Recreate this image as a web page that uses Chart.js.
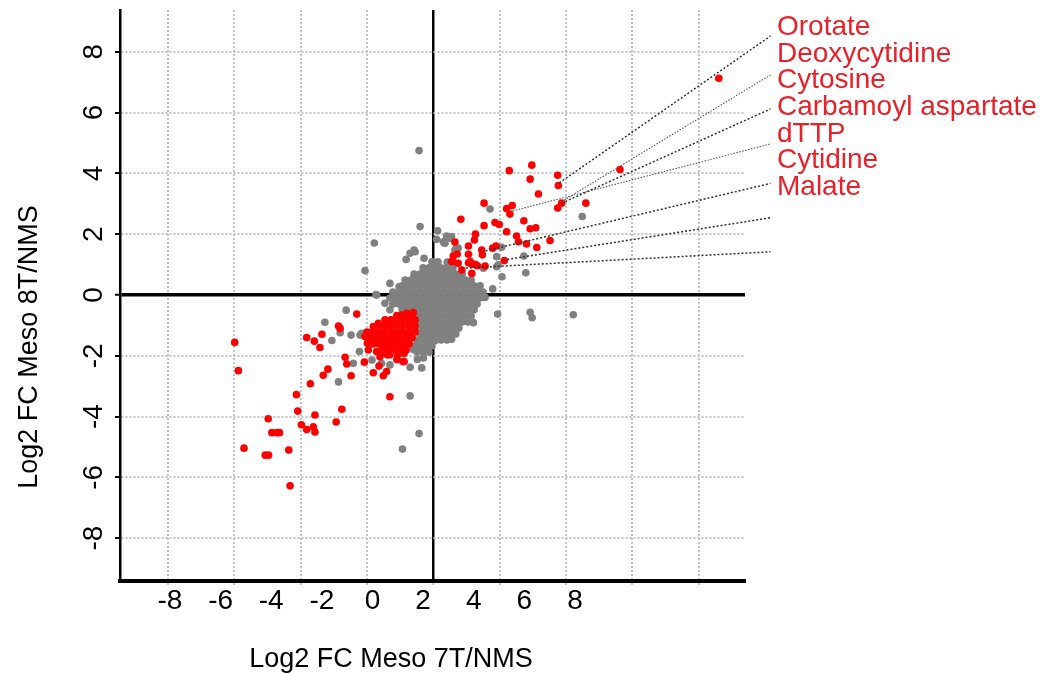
<!DOCTYPE html>
<html>
<head>
<meta charset="utf-8">
<script src="https://cdn.jsdelivr.net/npm/chart.js@4/dist/chart.umd.min.js"></script>
<style>
html,body{margin:0;padding:0;background:#fff;}
#wrap{width:1043px;height:673px;}
</style>
</head>
<body>
<div id="wrap"><canvas id="c" width="1043" height="673"></canvas></div>
<script>
// ---------- data ----------
const gridValues = [-8, -6, -4, -2, 0, 2, 4, 6, 8];
const xTickLabels = ['-8', '-6', '-4', '-2', '0', '2', '4', '6', '8'];
const yTickLabels = ['-8', '-6', '-4', '-2', '0', '2', '4', '6', '8'];
const xTitle = 'Log2 FC Meso 7T/NMS';
const yTitle = 'Log2 FC Meso 8T/NMS';

const labelNames = ['Orotate', 'Deoxycytidine', 'Cytosine', 'Carbamoyl aspartate', 'dTTP', 'Cytidine', 'Malate'];
const leaderStarts = [[3.80, 3.69], [3.87, 3.07], [3.87, 3.02], [2.31, 2.74], [1.46, 1.42], [2.11, 1.15], [0.86, 0.88]];
const leaderEnds = [[10.17, 8.52], [10.17, 7.24], [10.17, 6.12], [10.17, 4.97], [10.17, 3.67], [10.17, 2.54], [10.17, 1.42]];
const leaderThin = [false, true, false, true, false, false, false];

const redPoints = [
  [8.61,7.13],[5.63,4.13],[2.97,4.27],[2.29,4.09],[3.75,3.94],[2.92,3.81],[3.77,3.60],[3.17,3.32],
  [1.53,3.02],[4.60,3.02],[3.87,3.02],[3.75,2.86],[2.38,2.94],[2.21,2.84],[2.31,2.66],[0.83,2.49],
  [1.86,2.38],[1.99,2.32],[2.73,2.44],[1.53,2.28],[2.21,2.08],[2.92,2.18],[3.09,2.21],[1.27,2.00],
  [2.51,1.94],[1.24,1.81],[2.57,1.75],[2.81,1.68],[3.52,1.79],[0.65,1.74],[1.06,1.61],[3.12,1.56],
  [1.46,1.48],[1.48,1.32],[1.79,1.54],[1.89,1.61],[1.06,1.34],[0.60,1.28],[0.72,1.35],[0.60,1.10],
  [0.75,1.04],[1.06,1.06],[1.16,1.01],[1.26,1.01],[1.33,0.96],[1.56,0.95],[2.14,1.13],[0.86,0.82],
  [1.16,0.71],[0.55,1.10],[1.11,1.10],
  [-5.99,-1.56],[-5.88,-2.49],[-2.31,-0.63],[-2.86,-1.02],[-2.81,-1.10],[-3.36,-1.29],[-3.82,-1.40],
  [-3.59,-1.52],[-3.42,-1.73],[-3.18,-2.44],[-3.32,-2.64],[-3.71,-2.92],[-4.13,-3.28],[-4.09,-3.82],
  [-3.57,-3.95],[-2.76,-3.76],[-2.93,-4.18],[-3.98,-4.27],[-3.82,-4.43],[-3.62,-4.34],[-3.57,-4.51],
  [-4.98,-4.07],[-4.87,-4.53],[-4.72,-4.53],[-4.64,-4.53],[-5.71,-5.04],[-5.07,-5.27],[-4.97,-5.27],
  [-4.36,-5.10],[-4.32,-6.28],[-2.66,-2.05],[-2.61,-2.27],[-2.48,-2.66],[-2.08,-2.21],[-1.81,-2.56],
  [-1.51,-2.66],[-1.41,-2.52],[-1.31,-3.35],[-1.10,-2.12],[-0.92,-2.19],[-0.88,-1.92],[-1.71,-1.86],
  [-1.61,-2.03],[-1.46,-1.92],[-1.96,-1.81],[-1.99,-1.59],[-1.86,-1.48],[-2.06,-1.37],[-1.81,-1.04],
  [-1.66,-0.93],[-1.46,-0.82],[-1.31,-0.93],[-0.95,-0.66],[-0.80,-0.60],[-0.60,-0.58],[-1.39,-1.97],
  [-1.64,-2.34],[-0.88,-2.19],[-1.10,-0.68],[-0.70,-0.68],
  [-1.28,-0.82],[-1.10,-0.82],[-0.92,-0.82],[-0.73,-0.82],[-0.55,-0.82],
  [-1.64,-1.02],[-1.46,-1.02],[-1.28,-1.02],[-1.10,-1.02],[-0.92,-1.02],[-0.73,-1.02],[-0.55,-1.02],
  [-2.00,-1.22],[-1.82,-1.22],[-1.64,-1.22],[-1.46,-1.22],[-1.28,-1.22],[-1.10,-1.22],[-0.92,-1.22],[-0.73,-1.22],[-0.55,-1.22],
  [-1.91,-1.41],[-1.73,-1.41],[-1.55,-1.41],[-1.37,-1.41],[-1.19,-1.41],[-1.00,-1.41],[-0.82,-1.41],[-0.64,-1.41],
  [-1.82,-1.61],[-1.64,-1.61],[-1.46,-1.61],[-1.28,-1.61],[-1.10,-1.61],[-0.92,-1.61],[-0.73,-1.61],
  [-1.55,-1.81],[-1.37,-1.81],[-1.19,-1.81],[-1.00,-1.81],[-0.82,-1.81],
  [-1.31,-1.97],[-1.07,-1.97]
];

const grayPoints = [
  [-0.43,4.75],[-0.40,2.25],[-1.78,1.71],[-0.58,1.48],[-0.70,1.37],[-0.55,1.42],[-0.82,1.17],[-0.28,1.21],
  [0.13,2.11],[0.40,1.94],[0.50,1.87],[0.10,1.83],[0.32,1.72],[0.35,1.70],[0.75,1.54],[0.65,1.48],
  [-2.06,0.80],[-1.31,0.38],[-1.03,0.27],[-0.75,0.30],[-0.60,0.55],[0.42,1.08],[-1.73,0.01],[0.55,1.92],
  [0.30,1.75],[0.70,1.54],[1.71,2.83],[4.49,2.58],[2.06,1.57],[2.73,1.28],[1.91,0.93],[1.51,0.88],
  [2.79,0.73],[2.07,0.60],[1.96,0.99],[1.91,1.26],[1.79,0.20],[1.56,-0.08],[1.36,0.06],[1.16,-0.16],
  [1.31,0.06],[0.86,-0.22],[0.80,-0.55],[0.60,-0.60],[0.40,-0.96],[1.94,-0.63],[2.92,-0.57],[2.98,-0.75],
  [4.22,-0.65],[1.21,-0.91],[0.55,-1.46],[0.27,-1.39],[0.05,-1.51],[0.40,-1.46],[0.10,-1.26],[-0.48,-2.12],
  [-0.30,-2.07],[-0.70,-2.38],[-0.35,-2.40],[-0.52,-1.81],[-0.60,-1.79],[-0.80,-1.70],[-0.70,-3.32],
  [-0.43,-4.56],[-0.93,-5.07],[-2.63,-0.50],[-3.27,-0.90],[-2.81,-1.24],[-3.06,-1.50],[-2.48,-1.32],
  [-2.21,-1.32],[-2.16,-1.26],[-2.23,-1.86],[-2.41,-2.25],[-2.86,-2.86],[-1.85,-2.14],[-1.56,-2.25],
  [-1.31,-2.30],[-1.46,-0.27],[-1.21,-0.27],[-1.31,-0.49],[-1.71,0.00],
  [-0.04,1.09],[0.14,1.09],
  [-0.31,0.89],[-0.13,0.89],[0.05,0.89],[0.23,0.89],[0.41,0.89],[0.59,0.89],
  [-0.58,0.69],[-0.40,0.69],[-0.22,0.69],[-0.04,0.69],[0.14,0.69],[0.32,0.69],[0.50,0.69],[0.68,0.69],[0.87,0.69],
  [-0.85,0.49],[-0.67,0.49],[-0.49,0.49],[-0.31,0.49],[-0.13,0.49],[0.05,0.49],[0.23,0.49],[0.41,0.49],[0.59,0.49],[0.77,0.49],[0.96,0.49],[1.14,0.49],
  [-0.94,0.30],[-0.76,0.30],[-0.58,0.30],[-0.40,0.30],[-0.22,0.30],[-0.04,0.30],[0.14,0.30],[0.32,0.30],[0.50,0.30],[0.68,0.30],[0.87,0.30],[1.05,0.30],[1.23,0.30],[1.41,0.30],
  [-1.22,0.10],[-1.03,0.10],[-0.85,0.10],[-0.67,0.10],[-0.49,0.10],[-0.31,0.10],[-0.13,0.10],[0.05,0.10],[0.23,0.10],[0.41,0.10],[0.59,0.10],[0.77,0.10],[0.96,0.10],[1.14,0.10],[1.32,0.10],[1.50,0.10],
  [-1.31,-0.10],[-1.12,-0.10],[-0.94,-0.10],[-0.76,-0.10],[-0.58,-0.10],[-0.40,-0.10],[-0.22,-0.10],[-0.04,-0.10],[0.14,-0.10],[0.32,-0.10],[0.50,-0.10],[0.68,-0.10],[0.87,-0.10],[1.05,-0.10],[1.23,-0.10],[1.41,-0.10],
  [-1.22,-0.30],[-1.03,-0.30],[-0.85,-0.30],[-0.67,-0.30],[-0.49,-0.30],[-0.31,-0.30],[-0.13,-0.30],[0.05,-0.30],[0.23,-0.30],[0.41,-0.30],[0.59,-0.30],[0.77,-0.30],[0.96,-0.30],[1.14,-0.30],[1.32,-0.30],
  [-0.94,-0.49],[-0.76,-0.49],[-0.58,-0.49],[-0.40,-0.49],[-0.22,-0.49],[-0.04,-0.49],[0.14,-0.49],[0.32,-0.49],[0.50,-0.49],[0.68,-0.49],[0.87,-0.49],[1.05,-0.49],[1.23,-0.49],
  [-0.49,-0.69],[-0.31,-0.69],[-0.13,-0.69],[0.05,-0.69],[0.23,-0.69],[0.41,-0.69],[0.59,-0.69],[0.77,-0.69],[0.96,-0.69],[1.14,-0.69],
  [-0.40,-0.89],[-0.22,-0.89],[-0.04,-0.89],[0.14,-0.89],[0.32,-0.89],[0.50,-0.89],[0.68,-0.89],[0.87,-0.89],[1.05,-0.89],
  [-0.49,-1.09],[-0.31,-1.09],[-0.13,-1.09],[0.05,-1.09],[0.23,-1.09],[0.41,-1.09],[0.59,-1.09],[0.77,-1.09],
  [-0.40,-1.28],[-0.22,-1.28],[-0.04,-1.28],[0.14,-1.28],[0.32,-1.28],[0.50,-1.28],[0.68,-1.28],
  [-0.49,-1.48],[-0.31,-1.48],[-0.13,-1.48],[0.05,-1.48],[0.23,-1.48],[0.41,-1.48],
  [-0.58,-1.68],[-0.40,-1.68],[-0.22,-1.68],[-0.04,-1.68],
  [-0.49,-1.88],[-0.31,-1.88],[-0.13,-1.88]
];

// ---------- styling ----------
const FONT = '"Liberation Sans", Arial, Helvetica, sans-serif';
const GRID_COLOR = '#c4c4c4';
const isZero = c => c.tick && c.tick.value === 0;

const toXY = arr => arr.map(p => ({x: p[0], y: p[1]}));

const leaderDatasets = leaderStarts.map((s, i) => ({
  type: 'scatter',
  data: [{x: s[0], y: s[1]}, {x: leaderEnds[i][0], y: leaderEnds[i][1]}],
  showLine: true,
  pointRadius: 0,
  pointHoverRadius: 0,
  borderColor: leaderThin[i] ? '#5a5a5a' : '#333333',
  borderWidth: leaderThin[i] ? 1.1 : 1.5,
  borderDash: leaderThin[i] ? [1.5, 1.5] : [2, 2],
  clip: false,
  order: 0
}));

const annotationPlugin = {
  id: 'annotations',
  afterDraw(chart) {
    const ctx = chart.ctx;
    ctx.save();
    ctx.font = '28px ' + FONT;
    ctx.fillStyle = '#e8202a';
    ctx.textAlign = 'left';
    ctx.textBaseline = 'alphabetic';
    labelNames.forEach((t, i) => ctx.fillText(t, 777, 35 + i * 26.67));
    ctx.fillStyle = '#000';
    ctx.font = '27px ' + FONT;
    ctx.textAlign = 'center';
    ctx.fillText(xTitle, 391, 667);
    ctx.translate(37, 347);
    ctx.rotate(-Math.PI / 2);
    ctx.fillText(yTitle, 0, 0);
    ctx.restore();
  }
};

new Chart(document.getElementById('c'), {
  type: 'scatter',
  data: {
    datasets: [
      ...leaderDatasets,
      {
        data: toXY(redPoints),
        backgroundColor: '#ff0000',
        borderWidth: 0,
        pointRadius: 3.8,
        pointHoverRadius: 3.8,
        order: 1
      },
      {
        data: toXY(grayPoints),
        backgroundColor: '#808080',
        borderWidth: 0,
        pointRadius: 3.8,
        pointHoverRadius: 3.8,
        order: 2
      }
    ]
  },
  options: {
    responsive: false,
    animation: false,
    devicePixelRatio: 1,
    events: [],
    layout: {padding: {top: 10, right: 298, bottom: 0, left: 0}},
    plugins: {legend: {display: false}, tooltip: {enabled: false}},
    scales: {
      x: {
        type: 'linear', position: 'bottom', weight: 0,
        min: -9.45, max: 9.4,
        afterBuildTicks: s => { s.ticks = gridValues.map(v => ({value: v})); },
        afterFit: s => { s.height = 6; s.paddingLeft = 0; s.paddingRight = 0; },
        ticks: {display: false, autoSkip: false},
        grid: {
          color: c => isZero(c) ? '#000' : GRID_COLOR,
          lineWidth: c => isZero(c) ? 2.5 : 2,
          tickLength: 6, tickColor: GRID_COLOR, tickWidth: 2, tickBorderDash: [2, 2]
        },
        border: {display: true, color: '#000', width: 4, dash: c => isZero(c) ? [] : [2, 2]}
      },
      xl: {
        type: 'linear', position: 'bottom', weight: 1,
        min: -9.975, max: 14.716,
        afterBuildTicks: s => { s.ticks = gridValues.map(v => ({value: v})); },
        afterFit: s => { s.height = 86; s.paddingLeft = 0; s.paddingRight = 0; },
        ticks: {
          autoSkip: false, maxRotation: 0, minRotation: 0, padding: -3,
          color: '#000', font: {family: FONT, size: 28},
          callback: (v, i) => xTickLabels[i]
        },
        grid: {display: false, drawTicks: false},
        border: {display: false}
      },
      y: {
        type: 'linear', position: 'left',
        min: -9.41, max: 9.375,
        afterBuildTicks: s => { s.ticks = gridValues.map(v => ({value: v})); },
        afterFit: s => { s.width = 120; s.paddingTop = 0; s.paddingBottom = 0; },
        ticks: {
          autoSkip: false, minRotation: 90, maxRotation: 90, crossAlign: 'center', padding: 8,
          color: '#000', font: {family: FONT, size: 28},
          callback: (v, i) => yTickLabels[i]
        },
        grid: {
          color: c => isZero(c) ? '#000' : GRID_COLOR,
          lineWidth: c => isZero(c) ? 3.5 : 2,
          tickLength: 5, tickColor: '#000', tickWidth: 2
        },
        border: {display: true, color: '#000', width: 2.5, dash: c => isZero(c) ? [] : [2, 2]}
      }
    }
  },
  plugins: [annotationPlugin]
});
</script>
</body>
</html>
